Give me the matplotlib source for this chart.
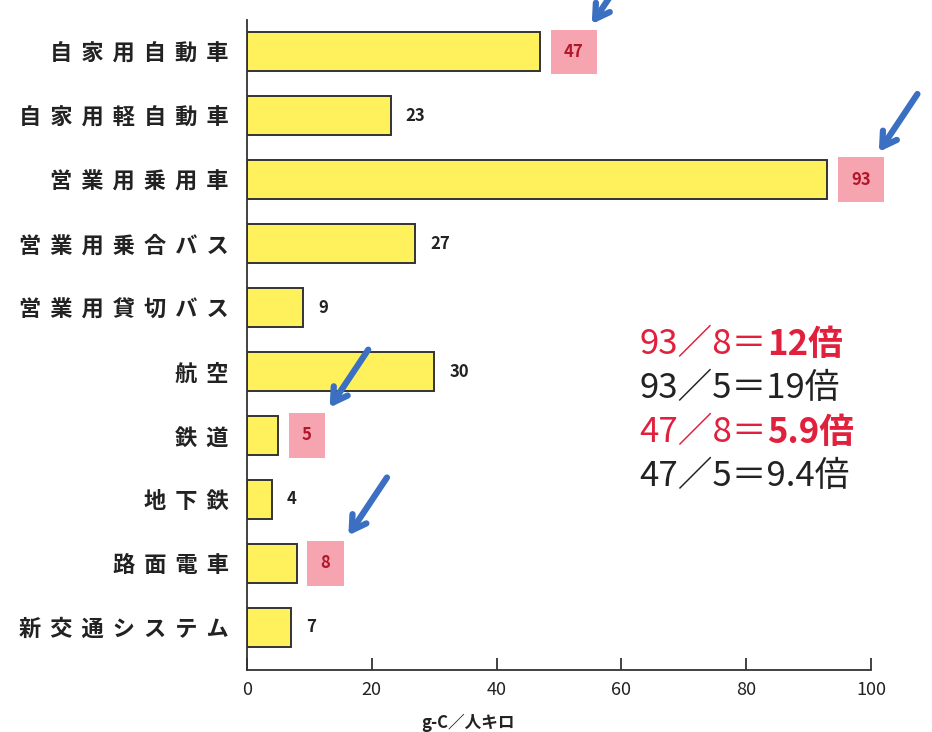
import matplotlib.pyplot as plt

plt.rcParams['font.family'] = ['Noto Sans CJK JP', 'DejaVu Sans']

categories = ["自家用自動車", "自家用軽自動車", "営業用乗用車", "営業用乗合バス", "営業用貸切バス",
              "航空", "鉄道", "地下鉄", "路面電車", "新交通システム"]
values = [47, 23, 93, 27, 9, 30, 5, 4, 8, 7]
highlight = ["自家用自動車", "営業用乗用車", "鉄道", "路面電車"]

ratio_lines = [("93／8＝", "12倍", "#e0203c"),
               ("93／5＝19倍", "", "#222222"),
               ("47／8＝", "5.9倍", "#e0203c"),
               ("47／5＝9.4倍", "", "#222222")]

fig = plt.figure(figsize=(9.32, 7.32), dpi=100)
ax = fig.add_axes([0.265, 0.0847, 0.6696, 0.888])

pos = list(range(len(categories)))
ax.barh(pos, values, height=0.61, color="#fff15c", edgecolor="#333333", linewidth=1.4, zorder=2)

ax.set_xlim(0, 100)
ax.set_ylim(9.67, -0.5)
ax.set_xticks([0, 20, 40, 60, 80, 100])
ax.set_yticks(pos)
ax.set_yticklabels(["\u2009\u2009".join(c) for c in categories], fontsize=16, fontweight="bold",
                   color="#222222")
ax.tick_params(axis="y", length=0, pad=13)
ax.tick_params(axis="x", direction="in", length=9, width=1.2, labelsize=13, colors="#222222", pad=8)
for side in ["top", "right"]:
    ax.spines[side].set_visible(False)
for side in ["left", "bottom"]:
    ax.spines[side].set_linewidth(1.3)
    ax.spines[side].set_color("#333333")

# value labels, the compared modes sit on pink boxes with an arrow
for i, (c, v) in enumerate(zip(categories, values)):
    if c in highlight:
        ax.text(v + 3.8, i, str(v), va="center", ha="left", fontsize=12, fontweight="bold",
                color="#b3162a", zorder=4,
                bbox=dict(boxstyle="square,pad=0.8", facecolor="#f6a5b0", edgecolor="none"))
        ax.annotate("", xy=(v + 8, i - 0.4), xytext=(30, 45), textcoords="offset points",
                    annotation_clip=False, zorder=5,
                    arrowprops=dict(arrowstyle="->,head_length=1.0,head_width=0.6",
                                    color="#3b6fc2", lw=4.5))
    else:
        ax.text(v + 2.4, i, str(v), va="center", ha="left", fontsize=12, fontweight="bold",
                color="#222222", zorder=4)

ax.set_xlabel("g-C／人キロ", fontsize=12, fontweight="bold", color="#222222")
ax.xaxis.set_label_coords(0.354, -0.068)

# ratio notes on the right
y0 = 0.529
for k, (plain, bold, col) in enumerate(ratio_lines):
    t = fig.text(0.686, y0 - k * 0.06, plain, fontsize=25, color=col, va="center", ha="left")
    if bold:
        ax.annotate(bold, xy=(1, 0.5), xycoords=t, va="center", ha="left",
                    fontsize=25, fontweight="bold", color=col, annotation_clip=False)

fig.savefig("out.png", dpi=100)
